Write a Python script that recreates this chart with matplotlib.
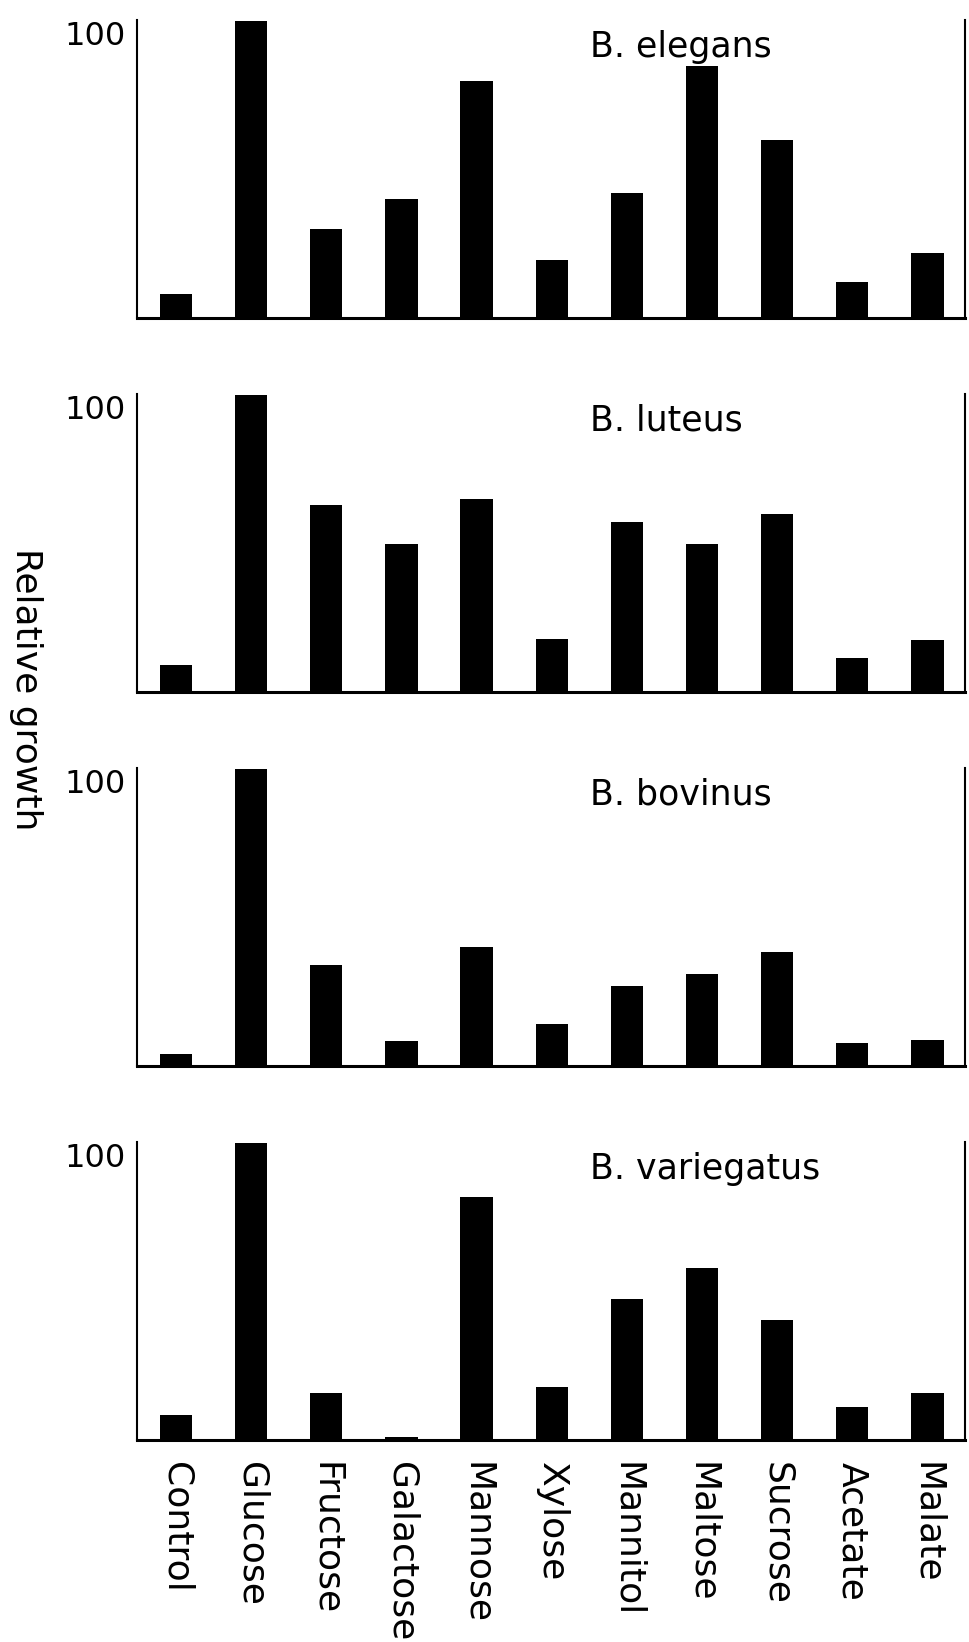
import numpy as np
import matplotlib
matplotlib.use('Agg')
import matplotlib.pyplot as plt

substrates = ['Control', 'Glucose', 'Fructose', 'Galactose', 'Mannose', 'Xylose',
              'Mannitol', 'Maltose', 'Sucrose', 'Acetate', 'Malate']
species = ['B. elegans', 'B. luteus', 'B. bovinus', 'B. variegatus']
elegans = [8, 100, 30, 40, 80, 19.5, 42, 85, 60, 12, 22]
luteus = [9, 100, 63, 50, 65, 18, 57.5, 50, 60, 11.5, 17.5]
bovinus = [4, 100, 34, 8.5, 40, 14, 27, 31, 38.5, 7.7, 8.8]
variegatus = [8.4, 100, 15.7, 1, 82, 18, 47.5, 58, 40.5, 11, 15.7]
values = [elegans, luteus, bovinus, variegatus]

plt.rcParams.update({'font.family': 'DejaVu Sans'})

fig = plt.figure(figsize=(9.7, 16.42), dpi=100)
fig.patch.set_facecolor('white')

left, width, height = 137 / 970, (965 - 137) / 970, 298 / 1642
bottoms_px = [318, 692, 1066, 1440]
x = np.arange(len(substrates))

for i, (name, vals) in enumerate(zip(species, values)):
    ax = fig.add_axes([left, 1 - bottoms_px[i] / 1642, width, height])
    ax.bar(x, vals, width=0.43, color='black')
    ax.set_xlim(-0.52, 10.5)
    ax.set_ylim(0, 100.5)
    ax.spines['top'].set_visible(False)
    for s in ('left', 'right'):
        ax.spines[s].set_linewidth(1.5)
    ax.spines['bottom'].set_linewidth(2.2)
    ax.set_yticks([100])
    ax.set_yticklabels(['100'], fontsize=23, va='top')
    ax.tick_params(axis='y', length=0, pad=8)
    ax.set_xticks(x)
    if i == len(species) - 1:
        ax.set_xticklabels(substrates, rotation=-90, fontsize=26,
                           ha='center', va='top')
        ax.tick_params(axis='x', length=0, pad=16)
    else:
        ax.set_xticklabels([])
        ax.tick_params(axis='x', length=0)
    ax.text(0.547, 0.876, name, transform=ax.transAxes, fontsize=25,
            ha='left', va='baseline')

fig.text(26 / 970, 1 - 689 / 1642, 'Relative growth', rotation=-90,
         fontsize=26, ha='center', va='center')

plt.savefig('out.png', dpi=100)
